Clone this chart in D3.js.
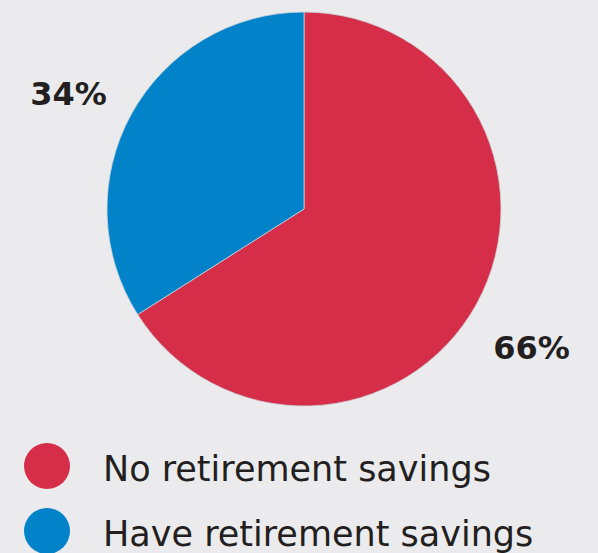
<!DOCTYPE html>
<html>
<head>
<meta charset="utf-8">
<script src="https://cdn.jsdelivr.net/npm/d3@7"></script>
<style>
  html, body { margin: 0; padding: 0; background: #ebebed; }
  svg { display: block; }
</style>
</head>
<body>
<svg id="chart" width="598" height="553"></svg>
<script>
const categories = ["No retirement savings", "Have retirement savings"];
const values = [66, 34];
const valueLabels = ["66%", "34%"];
const colors = ["#d62e48", "#0282c8"];

const svg = d3.select("#chart");
svg.append("rect").attr("width", 598).attr("height", 553).attr("fill", "#ebebed");

const cx = 304, cy = 209, radius = 197;
const data = categories.map((c, i) => ({ category: c, value: values[i], label: valueLabels[i], color: colors[i] }));

const pie = d3.pie().sort(null).value(d => d.value);
const arc = d3.arc().innerRadius(0).outerRadius(radius);
const arcs = pie(data);

const g = svg.append("g").attr("transform", `translate(${cx},${cy})`);
g.selectAll("path")
  .data(arcs)
  .join("path")
  .attr("d", arc)
  .attr("fill", d => d.data.color)
  .attr("stroke", "#c9d3dc")
  .attr("stroke-width", 0.8);

// percentage labels placed outside each slice
const labelArc = d3.arc().innerRadius(262).outerRadius(262);
const labelNudge = [[-2, 24], [-6, 22]];
g.selectAll("text.pct")
  .data(arcs)
  .join("text")
  .attr("class", "pct")
  .attr("x", (d, i) => labelArc.centroid(d)[0] + labelNudge[i][0])
  .attr("y", (d, i) => labelArc.centroid(d)[1] + labelNudge[i][1])
  .attr("text-anchor", "middle")
  .attr("font-family", "DejaVu Sans")
  .attr("font-weight", "bold")
  .attr("font-size", 32)
  .attr("fill", "#231f20")
  .text(d => d.data.label);

// legend
const legend = svg.append("g").attr("transform", "translate(47,466)");
const items = legend.selectAll("g")
  .data(data)
  .join("g")
  .attr("transform", (d, i) => `translate(0,${i * 65})`);
items.append("circle").attr("r", 23).attr("fill", d => d.color);
items.append("text")
  .attr("x", 56)
  .attr("y", 15)
  .attr("font-family", "DejaVu Sans")
  .attr("font-size", 35)
  .attr("fill", "#231f20")
  .text(d => d.category);
</script>
</body>
</html>
